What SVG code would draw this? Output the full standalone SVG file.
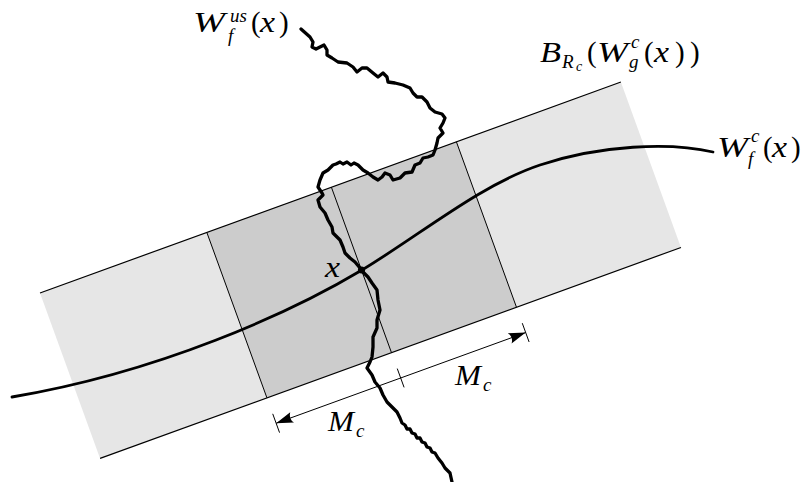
<svg xmlns="http://www.w3.org/2000/svg" width="807" height="482" viewBox="0 0 807 482">
<style>
.edge{stroke:#000;stroke-width:1.2;fill:none}
.thin{stroke:#000;stroke-width:0.9;fill:none}
.curve{stroke:#000;stroke-width:2.8;fill:none;stroke-linecap:round}
.wig{stroke:#000;stroke-width:3.3;fill:none;stroke-linejoin:round;stroke-linecap:round}
text{font-family:"Liberation Serif","DejaVu Serif",serif;fill:#000}
.i{font-style:italic}
.s1{font-size:29px}
.s2{font-size:19px}
.s3{font-size:14px}
</style>
<defs>
<marker id="ah" markerUnits="userSpaceOnUse" markerWidth="20" markerHeight="14" refX="0" refY="0" orient="auto-start-reverse" overflow="visible">
<path d="M0,0 L-17,-5.5 Q-13,0 -17,5.5 Z" fill="#000"/>
</marker>
</defs>
<g id="band" transform="translate(40,293) rotate(-19.96)">
<rect x="0" y="0" width="618" height="176" fill="#e6e6e6"/>
<rect x="177.5" y="0" width="265.5" height="176" fill="#cccccc"/>
<line class="edge" x1="0" y1="0" x2="618" y2="0"/>
<line class="edge" x1="0" y1="176" x2="618" y2="176"/>
<line class="thin" x1="177.5" y1="0" x2="177.5" y2="176"/>
<line class="thin" x1="310" y1="0" x2="310" y2="176"/>
<line class="thin" x1="443" y1="0" x2="443" y2="176"/>
<g id="dimension">
<line class="thin" x1="177.5" y1="203" x2="443" y2="203" marker-start="url(#ah)" marker-end="url(#ah)"/>
<line class="thin" x1="177.5" y1="193" x2="177.5" y2="213"/>
<line class="thin" x1="310" y1="193" x2="310" y2="213"/>
<line class="thin" x1="443" y1="193" x2="443" y2="213"/>
</g>
</g>
<g id="connectors">
<path id="Wfc" class="curve" d="M12,397 C160,372 290,313 362,270 C420,235 480,185 540,165 C600,145 670,142 713,152"/>
<path id="Wfus" class="wig" d="M301,29 L310,37 313,42 312,47 316,49 320,47 324,45 327,50 327,55 332,58 338,62 347,63 353,67 357,72 362,68 367,68 373,73 378,77 383,73 387,77 388,82 395,83 403,85 410,88 413,93 417,97 422,97 427,102 430,108 435,112 442,114 445,118 443,123 440,128 443,133 438,138 437,143 435,150 433,155 428,157 423,158 420,163 415,165 412,172 405,173 400,178 393,180 390,175 385,173 382,177 378,180 373,177 368,173 363,170 358,165 354,163 351,165 347,162 343,164 340,162 336,164 333,165 328,170 323,173 320,180 318,187 322,193 323,195 318,200 320,207 325,213 328,220 332,227 333,233 340,240 343,247 345,253 350,258 355,262 360,268 363,272 368,277 372,283 377,290 378,300 380,310 377,320 377,328 373,337 373,347 372,357 370,362 367,368 372,375 375,382 380,388 383,395 387,402 392,407 397,412 400,418 402,423 405,425 407,429 410,429 412,433 415,434 417,438 420,438 422,442 425,443 427,447 430,448 432,452 435,453 438,458 442,463 445,468 450,473 452,482"/>
<circle id="xpt" cx="361.5" cy="270" r="3.6" fill="#000"/>
</g>
<g id="label-Wfus">
<text x="193" y="32" class="i s1" textLength="32" lengthAdjust="spacingAndGlyphs">W</text>
<text x="230" y="22" class="i s2">us</text>
<text x="228" y="42" class="i s2">f</text>
<text x="251" y="32" class="s1">(</text>
<text x="260" y="32" class="i s1" textLength="15" lengthAdjust="spacingAndGlyphs">x</text>
<text x="279" y="32" class="s1">)</text>
</g>
<g id="label-B">
<text x="540" y="62" class="i s1" textLength="21" lengthAdjust="spacingAndGlyphs">B</text>
<text x="562" y="68" class="i s2">R</text>
<text x="576" y="71" class="i s3">c</text>
<text x="587" y="62" class="s1">(</text>
<text x="597" y="62" class="i s1" textLength="31" lengthAdjust="spacingAndGlyphs">W</text>
<text x="631" y="48" class="i s2">c</text>
<text x="629" y="68" class="i s2">g</text>
<text x="644" y="62" class="s1">(</text>
<text x="654" y="62" class="i s1" textLength="15" lengthAdjust="spacingAndGlyphs">x</text>
<text x="675" y="62" class="s1">)</text>
<text x="690" y="62" class="s1">)</text>
</g>
<g id="label-Wfc">
<text x="717" y="157" class="i s1" textLength="31" lengthAdjust="spacingAndGlyphs">W</text>
<text x="751" y="142" class="i s2">c</text>
<text x="748" y="165" class="i s2">f</text>
<text x="763" y="157" class="s1">(</text>
<text x="772" y="157" class="i s1" textLength="15" lengthAdjust="spacingAndGlyphs">x</text>
<text x="791" y="157" class="s1">)</text>
</g>
<g id="label-x">
<text x="325" y="277" class="i s1" textLength="15" lengthAdjust="spacingAndGlyphs">x</text>
</g>
<g id="label-Mc1">
<text x="455" y="385" class="i s1" textLength="26" lengthAdjust="spacingAndGlyphs">M</text>
<text x="483" y="391" class="i s2">c</text>
</g>
<g id="label-Mc2">
<text x="328" y="431" class="i s1" textLength="26" lengthAdjust="spacingAndGlyphs">M</text>
<text x="356" y="437" class="i s2">c</text>
</g>
</svg>
